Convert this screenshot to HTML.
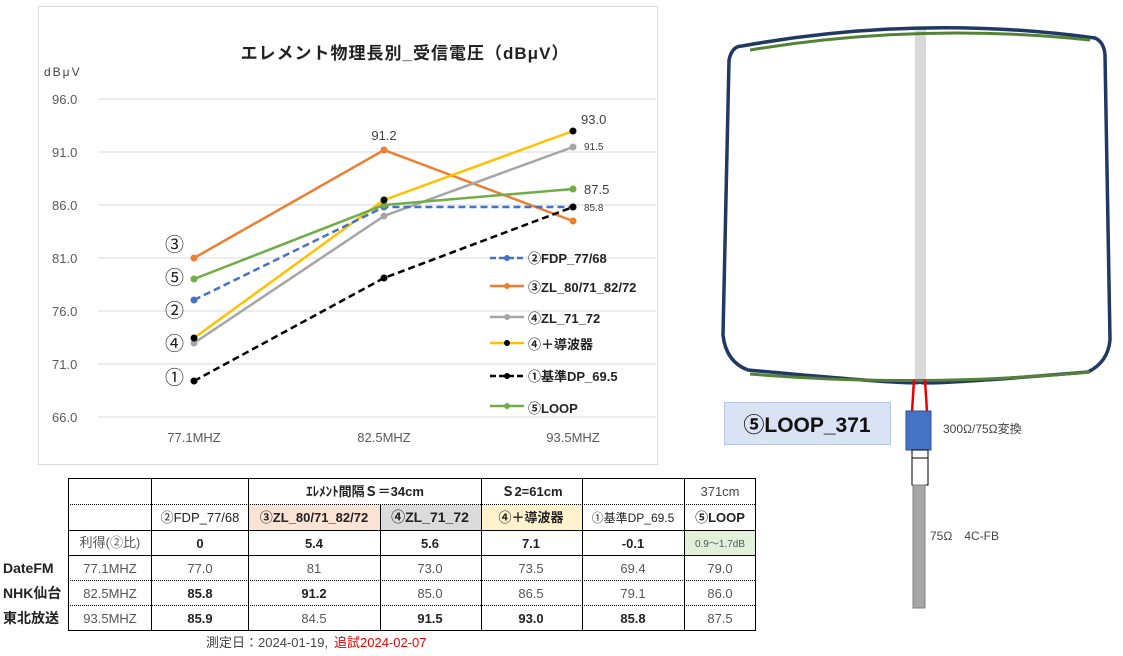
<!DOCTYPE html>
<html><head><meta charset="utf-8"><style>
body{margin:0;background:#fff;}
svg text{font-family:"Liberation Sans","Noto Sans CJK JP",sans-serif;}
</style></head><body>
<svg width="1123" height="651" viewBox="0 0 1123 651" xmlns="http://www.w3.org/2000/svg">
<rect x="0" y="0" width="1123" height="651" fill="#fff"/>
<rect x="38.5" y="6.5" width="619" height="458" fill="#fff" stroke="#d9d9d9"/>
<text x="405" y="59" font-size="17" font-weight="bold" text-anchor="middle" fill="#222" letter-spacing="1">エレメント物理長別_受信電圧（dBμV）</text>
<text x="44" y="76" font-size="12" fill="#444" letter-spacing="2">dBμV</text>
<g stroke="#d9d9d9" stroke-width="1">
<line x1="98" y1="99" x2="656" y2="99"/><line x1="98" y1="152" x2="656" y2="152"/>
<line x1="98" y1="205" x2="656" y2="205"/><line x1="98" y1="258" x2="656" y2="258"/>
<line x1="98" y1="311" x2="656" y2="311"/><line x1="98" y1="364" x2="656" y2="364"/>
<line x1="98" y1="417" x2="656" y2="417"/>
</g>
<g font-size="13" fill="#595959">
<text x="52" y="104">96.0</text><text x="52" y="157">91.0</text><text x="52" y="210">86.0</text>
<text x="52" y="263">81.0</text><text x="52" y="316">76.0</text><text x="52" y="369">71.0</text><text x="52" y="422">66.0</text>
<text x="194" y="442" text-anchor="middle">77.1MHZ</text><text x="384" y="442" text-anchor="middle">82.5MHZ</text><text x="573" y="442" text-anchor="middle">93.5MHZ</text>
</g>
<polyline points="194,258 384,150 573,221" fill="none" stroke="#ed7d31" stroke-width="2.5"/>
<polyline points="194,343 384,216 573,147" fill="none" stroke="#a5a5a5" stroke-width="2.5"/>
<polyline points="194,338 384,200 573,131" fill="none" stroke="#ffc000" stroke-width="2.5"/>
<polyline points="194,300 384,207 573,207" fill="none" stroke="#4472c4" stroke-width="2.5" stroke-dasharray="7,4"/>
<polyline points="194,279 384,205 573,189" fill="none" stroke="#70ad47" stroke-width="2.5"/>
<polyline points="194,381 384,278 573,207" fill="none" stroke="#000" stroke-width="2.5" stroke-dasharray="7,4"/>
<g fill="#ed7d31"><circle cx="194" cy="258" r="3.5"/><circle cx="384" cy="150" r="3.5"/><circle cx="573" cy="221" r="3.5"/></g>
<g fill="#a5a5a5"><circle cx="194" cy="343" r="3.5"/><circle cx="384" cy="216" r="3.5"/><circle cx="573" cy="147" r="3.5"/></g>
<g fill="#4472c4"><circle cx="194" cy="300" r="3.5"/><circle cx="384" cy="207" r="3.5"/><circle cx="573" cy="207" r="3.5"/></g>
<g fill="#70ad47"><circle cx="194" cy="279" r="3.5"/><circle cx="384" cy="205" r="3.5"/><circle cx="573" cy="189" r="3.5"/></g>
<g fill="#000"><circle cx="194" cy="338" r="3.5"/><circle cx="384" cy="200" r="3.5"/><circle cx="573" cy="131" r="3.5"/>
<circle cx="194" cy="381" r="3.5"/><circle cx="384" cy="278" r="3.5"/><circle cx="573" cy="207" r="3.5"/></g>
<g font-size="13" fill="#404040">
<text x="384" y="140" text-anchor="middle">91.2</text><text x="581" y="124">93.0</text>
<text x="584" y="150" font-size="10">91.5</text><text x="584" y="194">87.5</text><text x="584" y="211" font-size="10">85.8</text>
</g>
<g font-size="19" fill="#222">
<text x="165" y="251">③</text><text x="165" y="284">⑤</text><text x="165" y="317">②</text><text x="165" y="350">④</text><text x="165" y="384">①</text>
</g>
<g stroke-width="2.5">
<line x1="490" y1="258" x2="524" y2="258" stroke="#4472c4" stroke-dasharray="6,3"/><circle cx="507" cy="258" r="3" fill="#4472c4"/>
<line x1="490" y1="286" x2="524" y2="286" stroke="#ed7d31"/><circle cx="507" cy="286" r="3" fill="#ed7d31"/>
<line x1="490" y1="317" x2="524" y2="317" stroke="#a5a5a5"/><circle cx="507" cy="317" r="3" fill="#a5a5a5"/>
<line x1="490" y1="343" x2="524" y2="343" stroke="#ffc000"/><circle cx="507" cy="343" r="3" fill="#000"/>
<line x1="490" y1="376" x2="524" y2="376" stroke="#000" stroke-dasharray="6,3"/><circle cx="507" cy="376" r="3" fill="#000"/>
<line x1="490" y1="406" x2="524" y2="406" stroke="#70ad47"/><circle cx="507" cy="406" r="3" fill="#70ad47"/>
</g>
<g font-size="13" font-weight="bold" fill="#222">
<text x="528" y="263">②FDP_77/68</text><text x="528" y="292">③ZL_80/71_82/72</text><text x="528" y="323">④ZL_71_72</text>
<text x="528" y="349">④＋導波器</text><text x="528" y="381">①基準DP_69.5</text><text x="528" y="413">⑤LOOP</text>
</g>
<rect x="249" y="504" width="131" height="26" fill="#fbe4d5"/>
<rect x="380" y="504" width="101" height="26" fill="#dbdbdb"/>
<rect x="481" y="504" width="101" height="26" fill="#fff2cc"/>
<rect x="684" y="530" width="72" height="25" fill="#e2efd9"/>
<g stroke="#000" stroke-width="1" fill="none">
<rect x="68.5" y="478.5" width="687" height="152"/>
<line x1="68" y1="530.5" x2="756" y2="530.5"/><line x1="68" y1="555.5" x2="756" y2="555.5"/>
<line x1="151.5" y1="478" x2="151.5" y2="631"/><line x1="248.5" y1="478" x2="248.5" y2="631"/>
<line x1="380.5" y1="504" x2="380.5" y2="631"/><line x1="481.5" y1="478" x2="481.5" y2="631"/>
<line x1="582.5" y1="478" x2="582.5" y2="631"/><line x1="684.5" y1="478" x2="684.5" y2="631"/>
</g>
<g stroke="#000" stroke-width="1" stroke-dasharray="1,1">
<line x1="68" y1="504.5" x2="756" y2="504.5"/><line x1="68" y1="580.5" x2="756" y2="580.5"/><line x1="68" y1="605.5" x2="756" y2="605.5"/>
</g>
<g font-size="13" fill="#222" text-anchor="middle">
<text x="365" y="496" font-weight="bold">ｴﾚﾒﾝﾄ間隔Ｓ＝34cm</text>
<text x="532" y="496" font-weight="bold">Ｓ2=61cm</text>
<text x="720" y="496" fill="#444">371cm</text>
<text x="200" y="522">②FDP_77/68</text>
<text x="314" y="522" font-weight="bold">③ZL_80/71_82/72</text>
<text x="430" y="522" font-weight="bold" font-size="14">④ZL_71_72</text>
<text x="531" y="522" font-weight="bold">④＋導波器</text>
<text x="633" y="522" font-size="12">①基準DP_69.5</text>
<text x="720" y="522" font-weight="bold">⑤LOOP</text>
<text x="110" y="547" fill="#555">利得(②比)</text>
<g font-weight="bold"><text x="200" y="548">0</text><text x="314" y="548">5.4</text><text x="430" y="548">5.6</text><text x="531" y="548">7.1</text><text x="633" y="548">-0.1</text></g>
<text x="720" y="547" font-size="10" fill="#555">0.9～1.7dB</text>
<g fill="#555"><text x="110" y="573">77.1MHZ</text><text x="110" y="598">82.5MHZ</text><text x="110" y="623">93.5MHZ</text>
<text x="200" y="573">77.0</text><text x="314" y="573">81</text><text x="430" y="573">73.0</text><text x="531" y="573">73.5</text><text x="633" y="573">69.4</text><text x="720" y="573">79.0</text>
<text x="430" y="598">85.0</text><text x="531" y="598">86.5</text><text x="633" y="598">79.1</text><text x="720" y="598">86.0</text>
<text x="314" y="623">84.5</text><text x="720" y="623">87.5</text></g>
<g font-weight="bold"><text x="200" y="598">85.8</text><text x="314" y="598">91.2</text>
<text x="200" y="623">85.9</text><text x="430" y="623">91.5</text><text x="531" y="623">93.0</text><text x="633" y="623">85.8</text></g>
</g>
<g font-size="14" font-weight="bold" fill="#222">
<text x="3" y="573">DateFM</text><text x="3" y="598">NHK仙台</text><text x="3" y="623">東北放送</text>
</g>
<text x="206" y="647" font-size="13" fill="#444">測定日：2024-01-19,</text>
<text x="334" y="647" font-size="13" fill="#e00">追試2024-02-07</text>
<rect x="915" y="28" width="11" height="352" fill="#d9d9d9"/>
<path d="M742,46 Q920,14 1095,38 Q1104,42 1105,55 L1110,340 Q1108,362 1088,372 Q920,386 920,382 Q920,386 748,370 Q726,362 723,335 L729,60 Q732,46 742,46 Z" fill="none" stroke="#1f3864" stroke-width="3.5"/>
<path d="M750,50 Q920,22 1090,40" fill="none" stroke="#548235" stroke-width="3"/>
<path d="M750,374 Q920,388 1090,372" fill="none" stroke="#548235" stroke-width="3"/>
<g stroke="#e00" stroke-width="2.5"><line x1="914" y1="380" x2="912" y2="412"/><line x1="925" y1="380" x2="927" y2="412"/></g>
<rect x="906" y="411" width="25" height="39" fill="#4472c4" stroke="#2f528f"/>
<rect x="912" y="450" width="16" height="8" fill="#fff" stroke="#000"/>
<rect x="912" y="458" width="16" height="27" fill="#fff" stroke="#000"/>
<rect x="913" y="485" width="12" height="123" fill="#a6a6a6" stroke="#808080"/>
<rect x="724.5" y="402.5" width="166" height="42" fill="#dae3f3" stroke="#b4c7e7"/>
<text x="807" y="432" font-size="21" font-weight="bold" text-anchor="middle" fill="#111">⑤LOOP_371</text>
<text x="943" y="433" font-size="12" fill="#444">300Ω/75Ω変換</text>
<text x="930" y="540" font-size="12" fill="#444">75Ω　4C-FB</text>
</svg>
</body></html>
